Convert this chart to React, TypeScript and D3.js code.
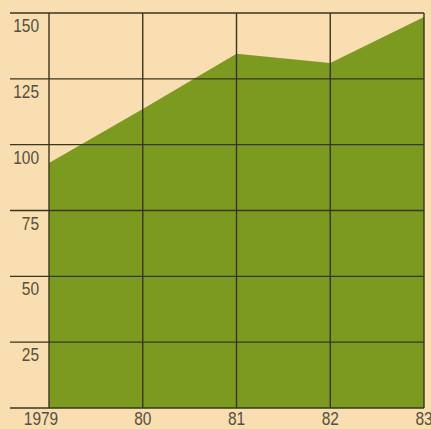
import React from "react";
import * as d3 from "d3";

const years = ["1979", "80", "81", "82", "83"];
const values = [93, 113.5, 134.5, 131, 148.5];
const yTicks = [25, 50, 75, 100, 125, 150];

const W = 431;
const H = 429;
const left = 49;
const right = 424;
const top = 13;
const bottom = 408;
const gridLeft = 10;

export default function App() {
  const x = d3.scalePoint<string>().domain(years).range([left, right]);
  const y = d3.scaleLinear().domain([0, 150]).range([bottom, top]);

  const area = d3
    .area<number>()
    .x((_, i) => x(years[i]) as number)
    .y0(y(0))
    .y1((d) => y(d));

  const gridColor = "#393620";
  const textColor = "#55503f";
  const font = "'Liberation Sans', Arial, sans-serif";
  // condensed lettering: squeeze glyphs horizontally around their anchor
  const squeeze = (px: number, py: number) =>
    `translate(${px},${py}) scale(0.86,1.04)`;

  return (
    <svg
      width={W}
      height={H}
      style={{ position: "absolute", left: 0, top: 0, display: "block" }}
    >
      <rect x={0} y={0} width={W} height={H} fill="#f8deb0" />
      <path d={area(values) ?? ""} fill="#7c9a20" />
      {/* horizontal gridlines, including the baseline */}
      {[0, ...yTicks].map((t) => (
        <line
          key={`h${t}`}
          x1={gridLeft}
          x2={right}
          y1={y(t)}
          y2={y(t)}
          stroke={gridColor}
          strokeWidth={1.4}
        />
      ))}
      {/* vertical gridlines at each year */}
      {years.map((yr) => (
        <line
          key={`v${yr}`}
          x1={x(yr)}
          x2={x(yr)}
          y1={y(150)}
          y2={y(0)}
          stroke={gridColor}
          strokeWidth={1.4}
        />
      ))}
      {yTicks.map((t) => (
        <text
          key={`yl${t}`}
          transform={squeeze(39, y(t) + 19)}
          textAnchor="end"
          fontFamily={font}
          fontSize={18}
          fill={textColor}
        >
          {t}
        </text>
      ))}
      {years.map((yr, i) => (
        <text
          key={`xl${yr}`}
          transform={squeeze(i === 0 ? 41 : (x(yr) as number), 425)}
          textAnchor="middle"
          fontFamily={font}
          fontSize={18}
          fill={textColor}
        >
          {yr}
        </text>
      ))}
    </svg>
  );
}
